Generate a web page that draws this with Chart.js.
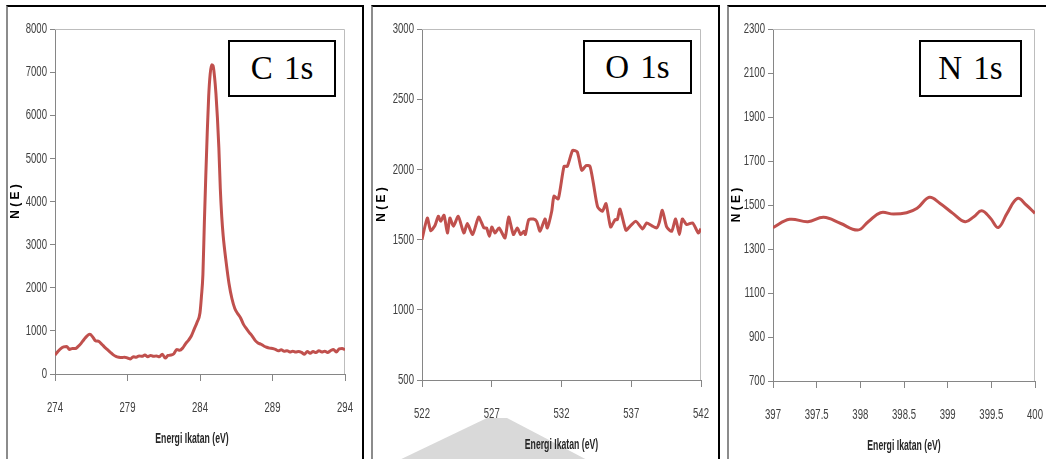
<!DOCTYPE html>
<html>
<head>
<meta charset="utf-8">
<script src="https://cdn.jsdelivr.net/npm/chart.js@4.4.1/dist/chart.umd.min.js"></script>
<style>
  body { margin: 0; width: 1046px; height: 459px; background: #fff; position: relative; overflow: hidden; }
  .frame { position: absolute; top: 5px; height: 470px; box-sizing: border-box;
           border-top: 2px solid #000; border-right: 2px solid #000; border-left: 2px solid #8c8c8c; }
  .chart { position: absolute; top: 7px; height: 452px; }
  .tag { position: absolute; top: 40px; height: 57px; box-sizing: border-box; border: 2px solid #000;
         background: #fff; font-family: 'Liberation Serif', 'Times New Roman', serif; font-size: 33px;
         display: flex; align-items: center; justify-content: center; word-spacing: 3px; }
  .smudge { position: absolute; left: 393px; top: 418px; width: 200px; height: 45px; background: #d9d9d9;
            clip-path: polygon(0 100%, 47% 0, 57% 0, 100% 100%); }
</style>
</head>
<body>
<div class="frame" style="left:6px;width:358px"></div>
<div class="frame" style="left:371px;width:349px"></div>
<div class="frame" style="left:727px;width:330px"></div>
<div class="smudge"></div>

<div class="chart" style="left:8px;width:354px"><canvas id="chartC"></canvas></div>
<div class="chart" style="left:373px;width:345px"><canvas id="chartO"></canvas></div>
<div class="chart" style="left:729px;width:317px"><canvas id="chartN"></canvas></div>

<div class="tag" style="left:228px;width:108px">C 1s</div>
<div class="tag" style="left:583px;width:109px;height:54px">O 1s</div>
<div class="tag" style="left:919px;width:103px">N 1s</div>

<script>
// C 1s spectrum
const cEnergy = [274.0, 274.2, 274.4, 274.6, 274.8, 275.0, 275.2, 275.4, 275.6, 275.8,
  276.0, 276.2, 276.4, 276.6, 276.8, 277.0, 277.2, 277.4, 277.6, 277.8,
  278.0, 278.2, 278.4, 278.6, 278.8, 279.0, 279.2, 279.4, 279.6, 279.8,
  280.0, 280.2, 280.4, 280.6, 280.8, 281.0, 281.2, 281.4, 281.6, 281.8,
  282.0, 282.2, 282.4, 282.6, 282.8, 283.0, 283.2, 283.4, 283.6, 283.8,
  284.0, 284.1, 284.2, 284.3, 284.4, 284.5, 284.6, 284.7, 284.8, 284.9,
  285.0, 285.1, 285.2, 285.3, 285.4, 285.5, 285.6, 285.8, 286.0, 286.2,
  286.4, 286.6, 286.8, 287.0, 287.2, 287.4, 287.6, 287.8, 288.0, 288.2,
  288.4, 288.6, 288.8, 289.0, 289.2, 289.4, 289.6, 289.8, 290.0, 290.2,
  290.4, 290.6, 290.8, 291.0, 291.2, 291.4, 291.6, 291.8, 292.0, 292.2,
  292.4, 292.6, 292.8, 293.0, 293.2, 293.4, 293.6, 293.8, 294.0];
const cCounts = [440, 520, 590, 630, 640, 570, 590, 590, 640, 710,
  800, 880, 920, 860, 770, 760, 700, 630, 570, 510,
  450, 410, 390, 380, 390, 370, 350, 400, 390, 420,
  410, 440, 400, 430, 410, 420, 400, 460, 370, 430,
  440, 470, 570, 550, 600, 700, 780, 880, 1040, 1200,
  1420, 1800, 2300, 3500, 4600, 5600, 6450, 6950, 7170, 7150,
  6900, 6500, 5950, 5250, 4300, 3650, 3200, 2600, 2100, 1750,
  1520, 1400, 1300, 1150, 1050, 960, 880, 780, 720, 690,
  650, 620, 600, 590, 570, 540, 560, 530, 540, 510,
  530, 510, 520, 500, 460, 520, 480, 520, 500, 540,
  510, 530, 500, 540, 570, 510, 580, 590, 560];
const cXTicks = [274, 279, 284, 289, 294];
const cYTicks = [0, 1000, 2000, 3000, 4000, 5000, 6000, 7000, 8000];

// O 1s spectrum
const oEnergy = [522.0, 522.38, 522.62, 522.93, 523.17, 523.34, 523.58, 523.82, 524.0, 524.25,
  524.6, 525.0, 525.25, 525.63, 526.06, 526.44, 526.63, 526.83, 527.0, 527.23,
  527.52, 527.95, 528.21, 528.55, 528.83, 529.07, 529.31, 529.41, 529.65, 529.98,
  530.22, 530.46, 530.82, 530.98, 531.3, 531.46, 531.77, 532.18, 532.42, 532.8,
  533.13, 533.45, 533.76, 534.04, 534.28, 534.59, 534.93, 535.19, 535.52, 535.84,
  536.0, 536.19, 536.62, 536.91, 537.34, 537.82, 538.1, 538.46, 538.82, 539.0,
  539.23, 539.54, 539.9, 540.18, 540.45, 540.66, 540.97, 541.4, 541.81, 542.0];
const oCounts = [1500, 1654, 1564, 1600, 1666, 1630, 1673, 1547, 1654, 1595,
  1666, 1547, 1614, 1536, 1660, 1583, 1583, 1524, 1590, 1547,
  1583, 1512, 1661, 1536, 1583, 1536, 1559, 1536, 1642, 1647,
  1630, 1559, 1647, 1583, 1702, 1809, 1790, 2022, 2022, 2136,
  2124, 1994, 2027, 2022, 1904, 1733, 1702, 1756, 1590, 1642,
  1642, 1718, 1566, 1595, 1630, 1576, 1619, 1600, 1583, 1619,
  1709, 1590, 1559, 1647, 1536, 1647, 1607, 1619, 1547, 1578];
const oXTicks = [522, 527, 532, 537, 542];
const oYTicks = [500, 1000, 1500, 2000, 2500, 3000];

// N 1s spectrum
const nEnergy = [397.0, 397.19, 397.4, 397.58, 397.77, 397.97, 398.09, 398.23, 398.38, 398.53,
  398.65, 398.79, 398.91, 399.06, 399.2, 399.3, 399.39, 399.49, 399.58, 399.68,
  399.8, 399.9, 400.0];
const nCounts = [1397, 1435, 1424, 1444, 1417, 1386, 1424, 1465, 1459, 1465,
  1485, 1535, 1508, 1462, 1424, 1447, 1474, 1440, 1398, 1462,
  1530, 1500, 1462];
const nXTicks = [397, 397.5, 398, 398.5, 399, 399.5, 400];
const nYTicks = [700, 900, 1100, 1300, 1500, 1700, 1900, 2100, 2300];

const xTitle = 'Energi Ikatan (eV)';
const yTitle = 'N ( E )';

// light frame on top and right of the plot area
const plotFrame = {
  id: 'plotFrame',
  beforeDatasetsDraw(chart) {
    const { ctx, chartArea: a } = chart;
    ctx.save();
    ctx.strokeStyle = '#bdbdbd';
    ctx.lineWidth = 1;
    ctx.beginPath();
    ctx.moveTo(a.left, a.top + 0.5);
    ctx.lineTo(a.right - 0.5, a.top + 0.5);
    ctx.lineTo(a.right - 0.5, a.bottom);
    ctx.stroke();
    ctx.restore();
  }
};

// the original uses a tall, narrow face; squeeze a regular one to match
function squeezed(ctx, text, x, y, sx, sy) {
  ctx.save();
  ctx.translate(x, y);
  ctx.scale(sx, sy);
  ctx.fillText(text, 0, 0);
  ctx.restore();
}

const narrowLabels = {
  id: 'narrowLabels',
  afterDraw(chart, args, opts) {
    const { ctx, chartArea: a, scales: { x, y } } = chart;
    ctx.save();
    ctx.fillStyle = '#404040';
    ctx.font = "11px 'Liberation Sans', Arial, sans-serif";
    ctx.textBaseline = 'middle';
    ctx.textAlign = 'center';
    x.ticks.forEach(t => squeezed(ctx, String(t.value), x.getPixelForValue(t.value), a.bottom + 34, 0.87, 1.4));
    ctx.textAlign = 'right';
    y.ticks.forEach(t => squeezed(ctx, String(t.value), a.left - 8, y.getPixelForValue(t.value), 0.87, 1.4));
    ctx.fillStyle = '#262626';
    ctx.font = "bold 11px 'Liberation Sans', Arial, sans-serif";
    ctx.textAlign = 'center';
    squeezed(ctx, xTitle, (a.left + a.right) / 2 + opts.titleShift, a.bottom + 65, 0.79, 1.3);
    ctx.restore();
  }
};

function makePanel(id, energy, counts, xTicks, yTicks, box) {
  const points = energy.map((e, i) => ({ x: e, y: counts[i] }));
  new Chart(document.getElementById(id), {
    type: 'line',
    data: {
      datasets: [{
        data: points,
        borderColor: '#c0504d',
        borderWidth: 3,
        pointRadius: 0,
        tension: box.tension,
        cubicInterpolationMode: box.mode
      }]
    },
    options: {
      responsive: true,
      maintainAspectRatio: false,
      animation: false,
      layout: { padding: { top: 22, right: box.right, left: 0, bottom: 0 } },
      plugins: {
        legend: { display: false },
        tooltip: { enabled: false },
        narrowLabels: { titleShift: box.titleShift }
      },
      scales: {
        x: {
          type: 'linear',
          min: xTicks[0],
          max: xTicks[xTicks.length - 1],
          afterBuildTicks: s => { s.ticks = xTicks.map(v => ({ value: v })); },
          afterFit: s => { s.height = box.xHeight; s.paddingLeft = 0; s.paddingRight = 0; },
          grid: { drawOnChartArea: false, tickLength: 7, color: '#868686' },
          border: { color: '#868686' },
          ticks: { display: false }
        },
        y: {
          min: yTicks[0],
          max: yTicks[yTicks.length - 1],
          afterBuildTicks: s => { s.ticks = yTicks.map(v => ({ value: v })); },
          afterFit: s => { s.width = box.yWidth; s.paddingTop = 0; s.paddingBottom = 0; },
          grid: { drawOnChartArea: false, tickLength: 5, color: '#868686' },
          border: { color: '#868686' },
          ticks: { display: false },
          title: {
            display: true, text: yTitle, color: '#000',
            font: { family: "'Liberation Sans', Arial, sans-serif", size: 12, weight: 'bold' },
            padding: { top: box.yTitlePad, bottom: 0 }
          }
        }
      }
    },
    plugins: [plotFrame, narrowLabels]
  });
}

makePanel('chartC', cEnergy, cCounts, cXTicks, cYTicks,
  { right: 17, xHeight: 85, yWidth: 47, yTitlePad: 0, titleShift: -8, tension: 0.3, mode: 'monotone' });
makePanel('chartO', oEnergy, oCounts, oXTicks, oYTicks,
  { right: 17, xHeight: 79, yWidth: 49, yTitlePad: 1, titleShift: 0, tension: 0.2, mode: 'default' });
makePanel('chartN', nEnergy, nCounts, nXTicks, nYTicks,
  { right: 11, xHeight: 78, yWidth: 44, yTitlePad: 0, titleShift: 0, tension: 0.4, mode: 'default' });
</script>
</body>
</html>
